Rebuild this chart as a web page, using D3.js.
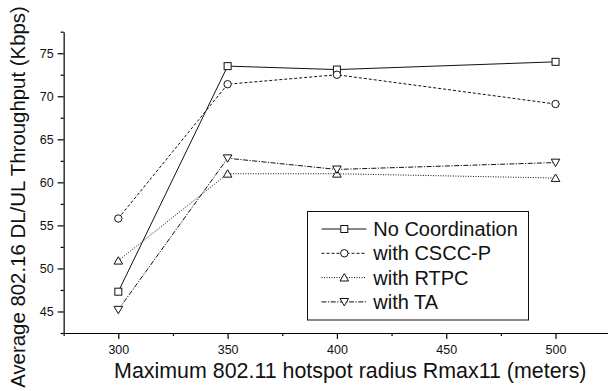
<!DOCTYPE html>
<html>
<head>
<meta charset="utf-8">
<script src="https://cdn.jsdelivr.net/npm/d3@7"></script>
<style>
  body { margin: 0; background: #fff; }
  svg { display: block; font-family: Arial, "Liberation Sans", sans-serif; }
</style>
</head>
<body>
<div id="chart"></div>
<script>
// values
var radius = [300, 350, 400, 500];
var noCoordination = [47.3, 73.5, 73.1, 74.0];
var withCSCCP = [55.8, 71.4, 72.5, 69.1];
var withRTPC = [50.9, 61.0, 61.0, 60.5];
var withTA = [45.2, 62.8, 61.5, 62.3];
var seriesNames = ["No Coordination", "with CSCC-P", "with RTPC", "with TA"];
var xMajorTicks = [300, 350, 400, 450, 500];
var xMinorTicks = [275, 325, 375, 425, 475, 525];
var yMajorTicks = [45, 50, 55, 60, 65, 70, 75];
var yMinorTicks = [42.5, 47.5, 52.5, 57.5, 62.5, 67.5, 72.5, 77.5];

(function() {
    "use strict";
    var W = 608, H = 391;
    var svg = d3.select("#chart").append("svg")
        .attr("width", W).attr("height", H)
        .attr("viewBox", "0 0 " + W + " " + H);

    var x = d3.scaleLinear().domain([275, 525]).range([63.65, 610.2]);
    var y = d3.scaleLinear().domain([42.5, 77.5]).range([333, 31.7]);
    var plotBottom = y(42.5), plotLeft = x(275);

    // axes: major ticks + short minor ticks
    var gx = svg.append("g").attr("transform", "translate(0," + plotBottom + ")");
    gx.call(d3.axisBottom(x).tickValues(xMajorTicks).tickSize(6).tickSizeOuter(0).tickPadding(6));
    gx.append("g").call(d3.axisBottom(x).tickValues(xMinorTicks).tickSize(3).tickFormat(""))
        .select(".domain").remove();

    var gy = svg.append("g").attr("transform", "translate(" + plotLeft + ",0)");
    gy.call(d3.axisLeft(y).tickValues(yMajorTicks).tickSize(6).tickSizeOuter(0).tickPadding(4));
    gy.append("g").call(d3.axisLeft(y).tickValues(yMinorTicks).tickSize(3).tickFormat(""))
        .select(".domain").remove();

    svg.selectAll(".domain, .tick line").attr("stroke", "#000").attr("stroke-width", 1.2);
    svg.selectAll(".tick text").attr("fill", "#111")
        .style("font-size", "12.5px").style("font-family", "Arial, 'Liberation Sans', sans-serif");

    // axis titles
    svg.append("text")
        .attr("x", 350.3).attr("y", 377.5)
        .attr("text-anchor", "middle")
        .style("font-size", "21.4px").attr("fill", "#111")
        .text("Maximum 802.11 hotspot radius Rmax11 (meters)");
    svg.append("text")
        .attr("transform", "translate(25,197) rotate(-90)")
        .attr("text-anchor", "middle")
        .style("font-size", "20.4px").attr("fill", "#111")
        .text("Average 802.16 DL/UL Throughput (Kbps)");

    // marker shapes
    var markers = {
        square: function(g) {
            g.append("rect").attr("x", -3.5).attr("y", -3.5).attr("width", 7).attr("height", 7);
        },
        circle: function(g) {
            g.append("circle").attr("r", 3.7);
        },
        up: function(g) {
            g.append("path").attr("d", "M0,-4 L4.3,3.4 L-4.3,3.4 Z");
        },
        down: function(g) {
            g.append("path").attr("d", "M0,4 L4.3,-3.4 L-4.3,-3.4 Z");
        }
    };

    var series = [
        { name: seriesNames[0], values: noCoordination, dash: null, marker: "square" },
        { name: seriesNames[1], values: withCSCCP, dash: "3,2", marker: "circle" },
        { name: seriesNames[2], values: withRTPC, dash: "1,1.5", marker: "up" },
        { name: seriesNames[3], values: withTA, dash: "5,1.5,1.2,1.5", marker: "down" }
    ];

    var line = d3.line()
        .x(function(d) { return x(d[0]); })
        .y(function(d) { return y(d[1]); });

    series.forEach(function(s) {
        var pts = radius.map(function(r, i) { return [r, s.values[i]]; });
        svg.append("path")
            .datum(pts)
            .attr("d", line)
            .attr("fill", "none")
            .attr("stroke", "#111")
            .attr("stroke-width", 1)
            .attr("stroke-dasharray", s.dash);
    });
    series.forEach(function(s) {
        radius.forEach(function(r, i) {
            var g = svg.append("g")
                .attr("transform", "translate(" + x(r) + "," + y(s.values[i]) + ")")
                .attr("fill", "#fff").attr("stroke", "#111").attr("stroke-width", 1);
            markers[s.marker](g);
        });
    });

    // legend
    var legend = svg.append("g");
    legend.append("rect")
        .attr("x", 307.5).attr("y", 211.5)
        .attr("width", 221).attr("height", 108.5)
        .attr("fill", "#fff").attr("stroke", "#111").attr("stroke-width", 1);
    series.forEach(function(s, i) {
        var cy = 229 + i * 24.3;
        legend.append("line")
            .attr("x1", 321.5).attr("x2", 366.5)
            .attr("y1", cy).attr("y2", cy)
            .attr("stroke", "#111").attr("stroke-width", 1)
            .attr("stroke-dasharray", s.dash);
        var g = legend.append("g")
            .attr("transform", "translate(344.3," + cy + ")")
            .attr("fill", "#fff").attr("stroke", "#111").attr("stroke-width", 1);
        markers[s.marker](g);
        legend.append("text")
            .attr("x", 373.3).attr("y", cy + 7)
            .style("font-size", "20px").attr("fill", "#111")
            .text(s.name);
    });
}());
</script>
</body>
</html>
